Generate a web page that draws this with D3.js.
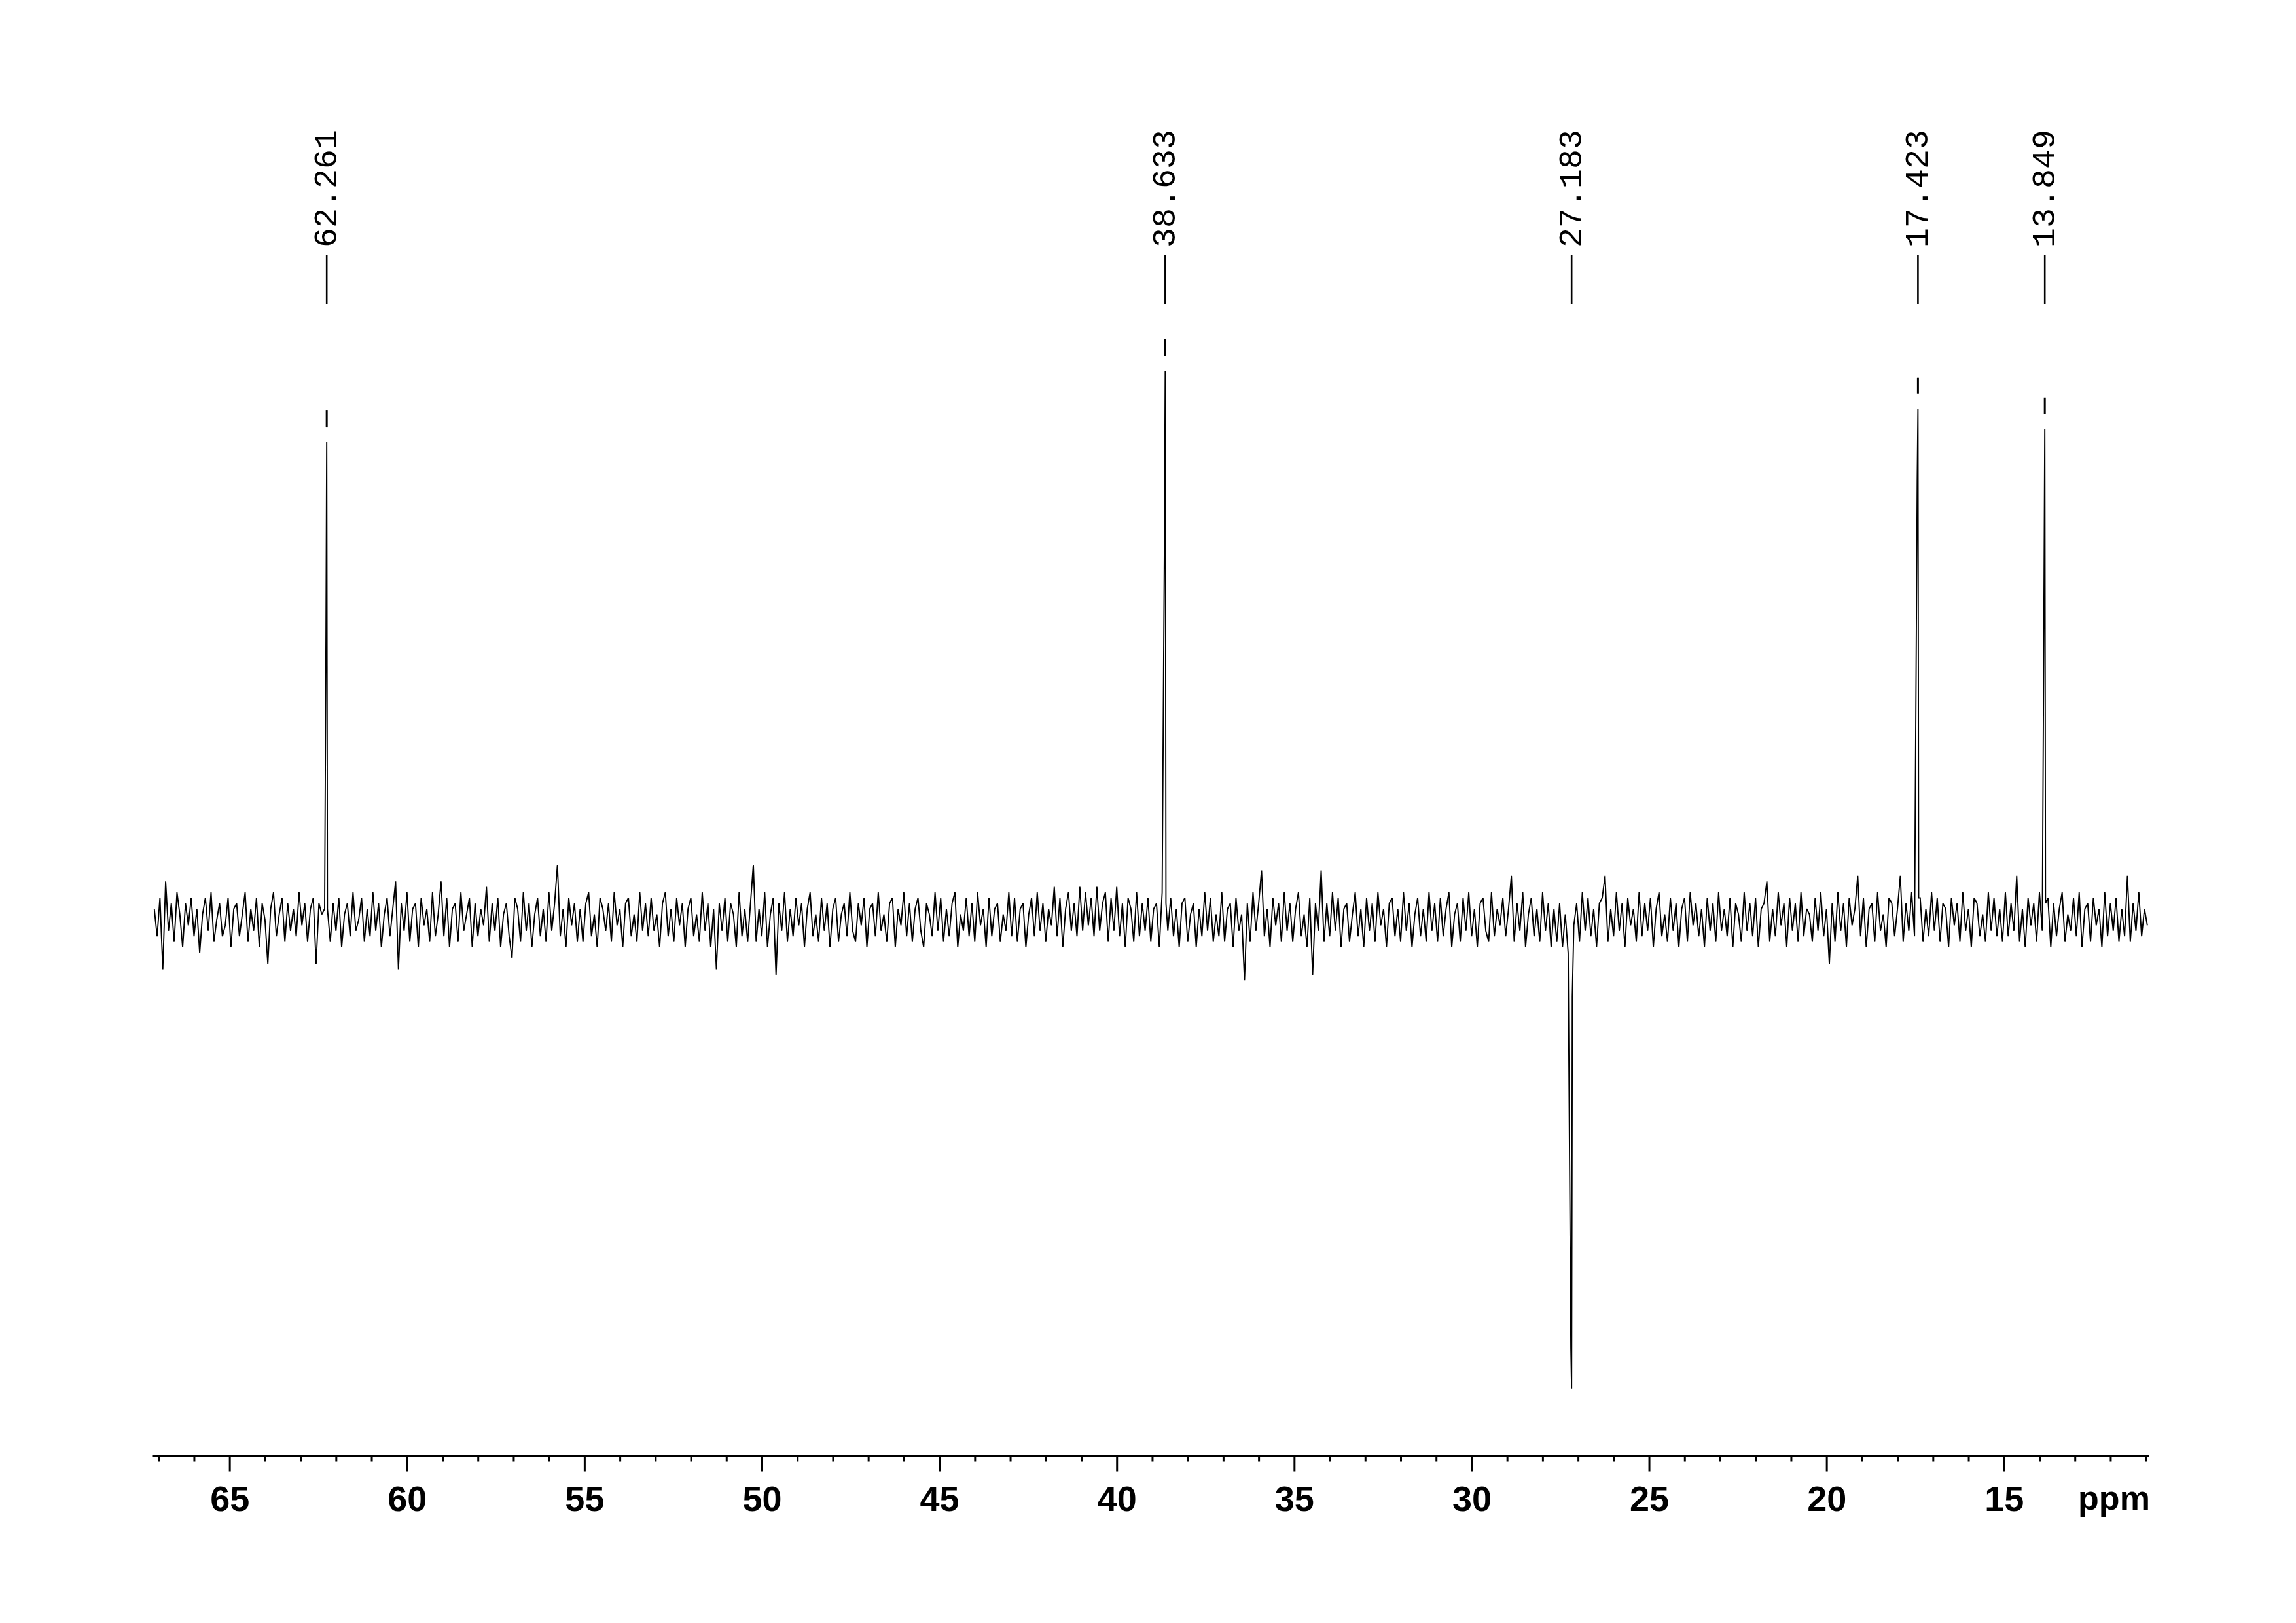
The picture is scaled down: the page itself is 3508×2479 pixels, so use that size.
<!DOCTYPE html>
<html>
<head>
<meta charset="utf-8">
<script src="https://cdn.jsdelivr.net/npm/d3@7"></script>
<style>
  html, body { margin: 0; padding: 0; background: #fff; }
  svg { display: block; }
</style>
</head>
<body>
<svg id="chart" width="3508" height="2479"></svg>
<script>
// ---------------- data ----------------
// picked peaks (ppm), apex intensity, neighbour-point intensities (high-ppm side, low-ppm side)
const peakPpm      = [62.261, 38.633, 27.183, 17.423, 13.849];
const peakLabels   = ["62.261", "38.633", "27.183", "17.423", "13.849"];
const peakApex     = [87.0, 100.0, -85.3, 93.0, 89.3];
const peakShoulderHi = [52, 72, -78, 80, 62];
const peakShoulderLo = [2, 3, -14, 4, 3];

// axis ticks
const majorTicks = [65, 60, 55, 50, 45, 40, 35, 30, 25, 20, 15];
const minorTicks = [67,66,64,63,62,61,59,58,57,56,54,53,52,51,49,48,47,46,44,43,42,41,39,38,37,36,34,33,32,31,29,28,27,26,24,23,22,21,19,18,17,16,14,13,12,11];
const axisUnit = "ppm";
const ppmRange = [67.17, 10.92];

// baseline noise, one value every 0.08 ppm starting at 67.12 ppm
const noiseStart = 67.12;
const noiseStep = 0.08;
const noise = [
  2,-3,4,-9,7,-2,3,-4,5,1,-5,3,-1,4,-3,2,-6,1,4,-2,5,-4,0,3,-3,
  -1,4,-5,2,3,-3,1,5,-4,2,-2,4,-5,3,0,-8,2,5,-3,1,4,-4,3,-2,2,
  -3,5,-1,3,-4,2,4,-8,3,1,2,5,-4,3,-2,4,-5,1,3,-3,5,-2,0,4,-4,
  2,-3,5,-2,3,-5,1,4,-3,2,7,-9,3,-2,5,-4,2,3,-5,4,-1,2,-4,5,-3,
  1,7,-3,4,-5,2,3,-4,5,-2,1,4,-5,3,-3,2,-1,6,-4,3,-2,4,-5,1,3,
  -3,-7,4,2,-4,5,-2,3,-5,1,4,-3,2,-4,5,-2,3,10,-3,2,-5,4,-1,3,-4,
  2,-4,3,5,-3,1,-5,4,2,-2,3,-4,5,-1,2,-5,3,4,-3,1,-4,5,-2,3,-3,
  4,-2,1,-5,3,5,-3,2,-4,4,-1,3,-5,2,4,-3,1,-4,5,-2,3,-5,2,-9,3,
  -2,4,-4,3,1,-5,5,-3,2,-4,3,10,-4,2,-3,5,-5,1,4,-10,3,-2,5,-4,2,
  -3,4,-1,3,-5,2,5,-3,1,-4,4,-2,3,-5,2,4,-4,1,3,-3,5,-2,-4,3,-1,
  4,-5,2,3,-3,5,-2,1,-4,3,4,-5,2,-1,5,-3,3,-4,2,4,-2,-5,3,1,-3,
  5,-2,4,-4,2,-3,3,5,-5,1,-2,4,-3,3,-4,5,-1,2,-5,4,-3,2,3,-4,1,
  -2,5,-3,4,-4,2,3,-5,1,4,-3,5,-2,3,-4,2,-1,6,-3,4,-5,2,5,-2,3,
  -3,6,-2,5,-1,4,-3,6,-2,3,5,-4,4,-2,6,-3,3,-5,4,2,-4,5,-3,3,-2,
  4,-4,2,3,-5,5,0,-2,4,-3,2,-5,3,4,-4,1,3,-5,2,-3,5,-2,4,-4,1,
  -3,5,-4,2,3,-5,4,-2,1,-11,3,-4,5,-2,3,9,-3,2,-5,4,-1,3,-4,5,-2,
  3,-4,2,5,-3,1,-5,4,-10,3,-2,9,-4,3,-3,5,-2,4,-5,2,3,-4,1,5,-3,
  2,-5,4,-2,3,-4,5,-1,2,-5,3,4,-3,2,-4,5,-2,3,-5,1,4,-3,2,-4,5,
  -2,3,-4,4,-3,2,5,-5,1,3,-4,4,-2,5,-3,2,-5,3,4,-2,-4,5,-3,2,-1,
  4,-3,2,8,-4,3,-2,5,-5,1,4,-3,2,-4,5,-2,3,-5,2,-4,3,-5,1,-6,0,
  -1,3,-4,5,-2,4,-3,2,-5,3,4,8,-4,2,-3,5,-2,3,-5,4,-1,2,-4,5,-3,
  3,-2,4,-5,2,5,-3,1,-4,4,-2,3,-5,2,4,-4,5,-1,3,-3,2,-5,4,-2,3,
  -4,5,-2,2,-3,4,-5,3,1,-4,5,-2,3,-3,4,-5,2,3,7,-4,2,-3,5,-1,3,
  -5,4,-2,3,-4,5,-3,2,1,-4,4,-2,5,-3,2,-8,3,-4,5,-2,3,-5,4,-1,2,
  8,-3,4,-5,2,3,-4,5,-2,1,-5,4,3,-3,2,8,-4,3,-2,5,-3,0,4,-4,2,
  -3,5,-2,4,-4,3,2,-5,4,-1,3,-4,5,-2,2,-5,4,3,-3,1,-4,5,-2,4,-3,
  2,-4,5,-3,3,-2,8,-4,2,-5,4,-1,3,-4,5,-2,0,4,-5,3,-3,2,5,-4,1,
  -2,4,-3,5,-5,2,3,-4,4,-1,2,-5,5,-3,3,-2,4,-4,2,-3,8,-4,3,-2,5,
  -3,2,-1
];

// ---------------- drawing ----------------
const svg = d3.select("#chart");
svg.append("rect").attr("width", 3508).attr("height", 2479).attr("fill", "#fff");

const x = d3.scaleLinear().domain(ppmRange).range([233, 3283]);
const y = d3.scaleLinear().domain([0, 100]).range([1405, 566]);

// build spectrum series: noise samples + peak points
let pts = noise.map((v, i) => ({ ppm: noiseStart - i * noiseStep, v: v }))
  .filter(p => !peakPpm.some(pp => Math.abs(pp - p.ppm) < 0.05));
peakPpm.forEach((pp, k) => {
  pts.push({ ppm: pp + 0.02, v: peakShoulderHi[k] });
  pts.push({ ppm: pp, v: peakApex[k] });
  pts.push({ ppm: pp - 0.02, v: peakShoulderLo[k] });
});
pts.sort((a, b) => b.ppm - a.ppm);

const line = d3.line().x(d => x(d.ppm)).y(d => y(d.v));
svg.append("path")
  .datum(pts)
  .attr("d", line)
  .attr("fill", "none")
  .attr("stroke", "#000")
  .attr("stroke-width", 1.9)
  .attr("stroke-linejoin", "miter")
  .attr("stroke-miterlimit", 2);

// peak labels
const lab = svg.append("g").attr("class", "peak-labels");
peakPpm.forEach((pp, k) => {
  const px = x(pp);
  lab.append("line")
    .attr("x1", px).attr("x2", px)
    .attr("y1", 390).attr("y2", 465)
    .attr("stroke", "#000").attr("stroke-width", 2.6);
  lab.append("text")
    .attr("transform", `translate(${px},378) rotate(-90)`)
    .attr("dy", "0.3em")
    .attr("font-family", "'Liberation Mono', 'DejaVu Sans Mono', monospace")
    .attr("font-size", 50)
    .attr("fill", "#000")
    .text(peakLabels[k]);
  if (peakApex[k] > 0) {
    const top = y(peakApex[k]);
    lab.append("line")
      .attr("x1", px).attr("x2", px)
      .attr("y1", top - 48).attr("y2", top - 23)
      .attr("stroke", "#000").attr("stroke-width", 3);
  }
});

// axis
const axisY = 2223.5;
const gMinor = svg.append("g").attr("transform", `translate(0,${axisY})`)
  .call(d3.axisBottom(x).tickValues(minorTicks).tickSize(9).tickSizeOuter(0).tickFormat(""));
gMinor.select(".domain").attr("stroke-width", 3.4).attr("stroke", "#000");
gMinor.selectAll(".tick line").attr("stroke-width", 3).attr("stroke", "#000");

const gMajor = svg.append("g").attr("transform", `translate(0,${axisY})`)
  .call(d3.axisBottom(x).tickValues(majorTicks).tickSize(24).tickSizeOuter(0).tickPadding(22).tickFormat(d3.format("d")));
gMajor.select(".domain").remove();
gMajor.selectAll(".tick line").attr("stroke-width", 3).attr("stroke", "#000");
gMajor.selectAll(".tick text")
  .attr("font-family", "'Liberation Sans', Arial, Helvetica, sans-serif")
  .attr("font-weight", "bold")
  .attr("font-size", 54)
  .attr("fill", "#000");

svg.append("text")
  .attr("x", 3230).attr("y", 2306)
  .attr("text-anchor", "middle")
  .attr("font-family", "'Liberation Sans', Arial, Helvetica, sans-serif")
  .attr("font-weight", "bold")
  .attr("font-size", 52)
  .attr("fill", "#000")
  .text(axisUnit);
</script>
</body>
</html>
